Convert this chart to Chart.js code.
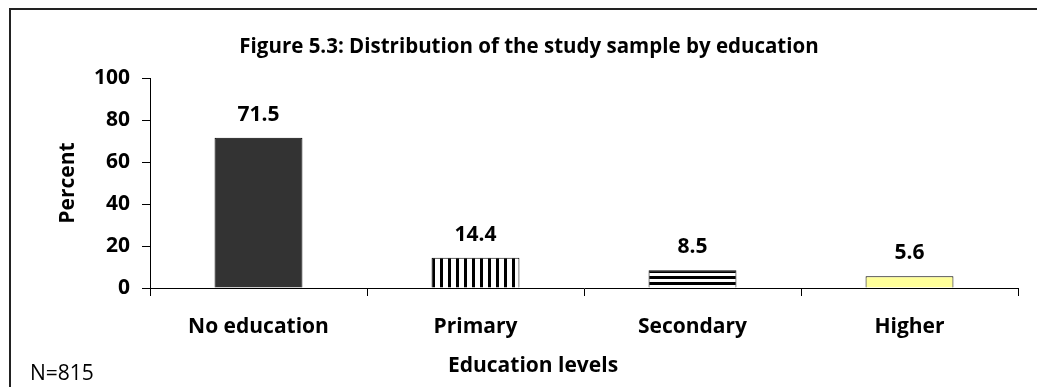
<!DOCTYPE html>
<html>
<head>
<meta charset="utf-8">
<script src="https://cdn.jsdelivr.net/npm/chart.js@4.4.1/dist/chart.umd.min.js"></script>
<style>
  html, body { margin: 0; padding: 0; background: #ffffff; }
  #wrap { position: relative; width: 1037px; height: 387px; }
  canvas { display: block; }
</style>
</head>
<body>
<div id="wrap"><canvas id="c" width="1037" height="387"></canvas></div>
<script>
// ---- data ----
const categories = ["No education", "Primary", "Secondary", "Higher"];
const percentValues = [71.5, 14.4, 8.5, 5.6];
const yTickValues = [0, 20, 40, 60, 80, 100];
const chartTitle = "Figure 5.3: Distribution of the study sample by education";
const xAxisTitle = "Education levels";
const yAxisTitle = "Percent";
const footNote = "N=815";

const FAMILY = "'Open Sans', Lato, 'Liberation Sans', sans-serif";

// pick font sizes so text widths match the reference
const mctx = document.createElement('canvas').getContext('2d');
function fitSize(text, weight, target) {
  mctx.font = weight + " 100px " + FAMILY;
  const w = mctx.measureText(text).width;
  return Math.round(100 * target / w * 2) / 2;
}
const TITLE_SIZE = fitSize(chartTitle, 'bold', 580);
const LABEL_SIZE = Math.round((fitSize("No education", 'bold', 134) + fitSize(xAxisTitle, 'bold', 177)) / 2 * 2) / 2;
const NOTE_SIZE = fitSize(footNote, 'normal', 64);

function stripePattern(vertical) {
  const p = document.createElement('canvas');
  const g = p.getContext('2d');
  if (vertical) {
    p.width = 8; p.height = 8;
    g.fillStyle = '#ffffff'; g.fillRect(0, 0, 8, 8);
    g.fillStyle = '#000000'; g.fillRect(0, 0, 3, 8);
  } else {
    p.width = 6; p.height = 6;
    g.fillStyle = '#ffffff'; g.fillRect(0, 0, 6, 6);
    g.fillStyle = '#000000'; g.fillRect(0, 0, 6, 3);
  }
  return document.getElementById('c').getContext('2d').createPattern(p, 'repeat');
}

const barFills = ['#333333', stripePattern(true), stripePattern(false), '#ffff99'];

const decorPlugin = {
  id: 'decor',
  beforeDraw(chart) {
    const ctx = chart.ctx;
    ctx.save();
    ctx.fillStyle = '#ffffff';
    ctx.fillRect(0, 0, chart.width, chart.height);
    ctx.strokeStyle = '#222222';
    ctx.lineWidth = 2;
    ctx.beginPath();
    ctx.moveTo(10, chart.height + 5);
    ctx.lineTo(10, 9);
    ctx.lineTo(chart.width + 5, 9);
    ctx.stroke();
    ctx.restore();
  },
  afterDatasetsDraw(chart) {
    const ctx = chart.ctx;
    const meta = chart.getDatasetMeta(0);
    ctx.save();
    ctx.fillStyle = '#000000';
    ctx.font = "bold " + LABEL_SIZE + "px " + FAMILY;
    ctx.textAlign = 'center';
    ctx.textBaseline = 'middle';
    meta.data.forEach((bar, i) => {
      ctx.fillText(percentValues[i].toFixed(1), bar.x, bar.y - 23);
    });
    ctx.restore();
  },
  afterDraw(chart) {
    const ctx = chart.ctx;
    ctx.save();
    ctx.fillStyle = '#000000';
    ctx.textAlign = 'center';
    ctx.textBaseline = 'middle';
    ctx.font = "bold " + TITLE_SIZE + "px " + FAMILY;
    ctx.fillText(chartTitle, 529, 47.5);
    ctx.font = "bold " + LABEL_SIZE + "px " + FAMILY;
    ctx.fillText(xAxisTitle, 533, 366);
    ctx.textAlign = 'left';
    ctx.font = NOTE_SIZE + "px " + FAMILY;
    ctx.fillText(footNote, 30, 374);
    ctx.restore();
  }
};

new Chart(document.getElementById('c'), {
  type: 'bar',
  data: {
    labels: categories,
    datasets: [{
      data: percentValues,
      backgroundColor: barFills,
      borderColor: '#000000',
      borderWidth: 1,
      categoryPercentage: 1.0,
      barPercentage: 0.405
    }]
  },
  options: {
    responsive: false,
    animation: false,
    devicePixelRatio: 1,
    layout: { padding: { top: 78, right: 19, left: 0, bottom: 0 } },
    plugins: { legend: { display: false }, title: { display: false }, tooltip: { enabled: false } },
    scales: {
      x: {
        grid: { display: true, drawOnChartArea: false, drawTicks: true, tickLength: 8, color: '#000000', offset: true },
        border: { display: true, color: '#000000', width: 1 },
        ticks: { color: '#000000', padding: Math.round(327 - 0.6 * LABEL_SIZE - 296), font: { family: FAMILY, size: LABEL_SIZE, weight: 'bold' } },
        afterFit(scale) { scale.height = 99; }
      },
      y: {
        min: 0, max: 100,
        afterBuildTicks(scale) { scale.ticks = yTickValues.map(v => ({ value: v })); },
        grid: { display: true, drawOnChartArea: false, drawTicks: true, tickLength: 8, color: '#000000' },
        border: { display: true, color: '#000000', width: 1 },
        ticks: { color: '#000000', padding: 12, font: { family: FAMILY, size: LABEL_SIZE, weight: 'bold' } },
        title: { display: true, text: yAxisTitle, color: '#000000', padding: { top: Math.round(68 - 0.6 * LABEL_SIZE), bottom: 0 }, font: { family: FAMILY, size: LABEL_SIZE, weight: 'bold' } },
        afterFit(scale) { scale.width = 150; }
      }
    }
  },
  plugins: [decorPlugin]
});
</script>
</body>
</html>
